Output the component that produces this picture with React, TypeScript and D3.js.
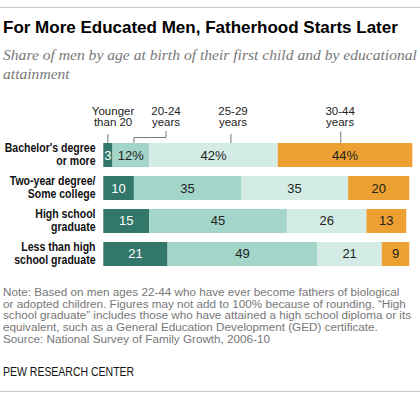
import * as React from "react";
import * as d3 from "d3";

const categories = ["Bachelor's degree|or more", "Two-year degree/|Some college", "High school|graduate", "Less than high|school graduate"];
const ageKeys = ["under20", "age20to24", "age25to29", "age30to44"];
const ageLabels = ["Younger|than 20", "20-24|years", "25-29|years", "30-44|years"];
const under20 = [3, 10, 15, 21];
const age20to24 = [12, 35, 45, 49];
const age25to29 = [42, 35, 26, 21];
const age30to44 = [44, 20, 13, 9];
// where the header labels and their leader lines sit, in percent along the bar
const labelPct = [3.2, 20.5, 42.4, 77.4];
const leaderPct = [1.5, 10, 41.7, 77.6];

const colors = ["#33776a", "#a3d5c9", "#d4ece6", "#eda132"];
const sans = "'Liberation Sans', Arial, sans-serif";

const noteLines = [
  "Note: Based on men ages 22-44 who have ever become fathers of biological",
  "or adopted children. Figures may not add to 100% because of rounding. \u201cHigh",
  "school graduate\u201d includes those who have attained a high school diploma or its",
  "equivalent, such as a General Education Development (GED) certificate.",
  "Source: National Survey of Family Growth, 2006-10",
];

export default function App() {
  const rows = categories.map((c, i) => ({
    category: c,
    under20: under20[i],
    age20to24: age20to24[i],
    age25to29: age25to29[i],
    age30to44: age30to44[i],
  }));
  const stacked = d3.stack<any>().keys(ageKeys)(rows);

  const x = d3.scaleLinear().domain([0, 100]).range([103.3, 409.3]);
  const y = d3.scaleBand().domain(categories).range([143, 266]).paddingInner(0.2727);
  const barTop = y(categories[0]) as number;

  return (
    <svg width={420} height={398} style={{position: "absolute", left: 0, top: 0, background: "#fff"}}>
      <line x1={0} x2={420} y1={7.5} y2={7.5} stroke="#c8c8c8" />
      <text x={3} y={32.5} fontFamily={sans} fontWeight="bold" fontSize={17} fill="#000">
        For More Educated Men, Fatherhood Starts Later
      </text>
      <text fontFamily="'Liberation Serif', Georgia, serif" fontStyle="italic" fontSize={15.6} fill="#777">
        <tspan x={3} y={60}>Share of men by age at birth of their first child and by educational</tspan>
        <tspan x={3} y={78.5}>attainment</tspan>
      </text>

      {ageLabels.map((lab, i) => (
        <text key={lab} textAnchor="middle" fontFamily={sans} fontSize={11.5} fill="#222">
          {lab.split("|").map((t, j) => (
            <tspan key={j} x={x(labelPct[i])} y={115 + j * 11.2}>{t}</tspan>
          ))}
        </text>
      ))}
      <g stroke="#777" fill="none" strokeWidth={1}>
        <path d={`M${x(leaderPct[0])},134V${barTop}`} />
        <path d={`M${x(labelPct[1])},131V137.5H${x(leaderPct[1])}V${barTop}`} />
        <path d={`M${x(leaderPct[2])},134V${barTop}`} />
        <path d={`M${x(leaderPct[3])},131.5V${barTop}`} />
      </g>

      <g transform="translate(95.5,0) scale(0.81,1)">
        {categories.map((c) => {
          const cy = (y(c) as number) + y.bandwidth() / 2;
          return (
            <text key={c} textAnchor="end" fontFamily={sans} fontWeight="bold" fontSize={13} fill="#111">
              {c.split("|").map((t, j) => (
                <tspan key={j} x={0} y={cy - 3 + j * 13}>{t}</tspan>
              ))}
            </text>
          );
        })}
      </g>

      {stacked.map((series, k) => (
        <g key={series.key} fill={colors[k]}>
          {series.map((d, i) => (
            <rect key={i} x={x(d[0])} y={y(categories[i])} width={x(d[1]) - x(d[0])} height={y.bandwidth()} />
          ))}
        </g>
      ))}
      {stacked.map((series, k) => (
        <g key={series.key + "-lab"} textAnchor="middle" fontFamily={sans} fontSize={13} fill={k === 0 ? "#fff" : "#222"}>
          {series.map((d, i) => {
            const v = d[1] - d[0];
            const label = i === 0 && k > 0 ? `${v}%` : `${v}`;
            return (
              <text key={i} x={(x(d[0]) + x(d[1])) / 2} y={(y(categories[i]) as number) + y.bandwidth() / 2 + 4.5}>{label}</text>
            );
          })}
        </g>
      ))}

      <text fontFamily={sans} fontSize={11.7} fill="#777">
        {noteLines.map((t, i) => (
          <tspan key={i} x={3} y={296 + i * 11.7}>{t}</tspan>
        ))}
      </text>
      <g transform="translate(3,376) scale(0.84,1)">
        <text x={0} y={0} fontFamily={sans} fontSize={12.5} fill="#111">PEW RESEARCH CENTER</text>
      </g>
      <line x1={0} x2={420} y1={391.5} y2={391.5} stroke="#c8c8c8" />
    </svg>
  );
}
